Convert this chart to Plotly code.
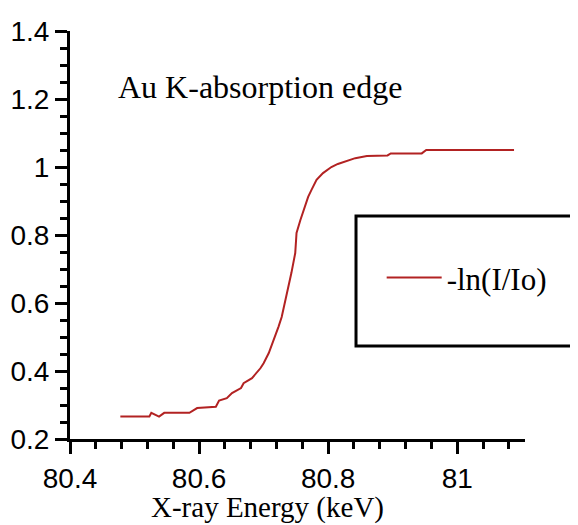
import plotly.graph_objects as go

# Data
energy_kev = [80.478, 80.523, 80.526, 80.538, 80.546, 80.585, 80.597, 80.626, 80.631,
              80.643, 80.651, 80.665, 80.669, 80.682, 80.695, 80.700, 80.708, 80.716,
              80.723, 80.728, 80.734, 80.738, 80.743, 80.749, 80.751, 80.757, 80.762,
              80.769, 80.774, 80.782, 80.792, 80.805, 80.815, 80.826, 80.842, 80.860,
              80.892, 80.897, 80.945, 80.952, 81.088]
neg_ln_i_io = [0.266, 0.266, 0.277, 0.266, 0.277, 0.277, 0.291, 0.295, 0.313,
               0.320, 0.335, 0.350, 0.364, 0.379, 0.408, 0.423, 0.453, 0.491,
               0.530, 0.559, 0.609, 0.647, 0.688, 0.747, 0.806, 0.844, 0.874,
               0.912, 0.932, 0.962, 0.982, 1.000, 1.009, 1.016, 1.026, 1.032,
               1.034, 1.040, 1.040, 1.050, 1.050]
series_name = "-ln(I/Io)"
title_text = "Au K-absorption edge"
x_title = "X-ray Energy (keV)"

serif = "Liberation Serif"
sans = "Liberation Sans"

fig = go.Figure()
fig.add_trace(go.Scatter(
    x=energy_kev, y=neg_ln_i_io, mode="lines", name=series_name,
    line=dict(color="#b22222", width=2),
))

# legend frame: open on the right, as it runs off the picture
bx0, bx1, by0, by1 = 0.6286, 1.3, 0.228, 0.5466
frame_path = f"M {bx1},{by1} L {bx0},{by1} L {bx0},{by0} L {bx1},{by0}"

# the page body has an 8px margin, so the figure is sized to fill the rest
fig.update_layout(
    width=570, height=517,
    margin=dict(l=62, r=53, t=23, b=86, autoexpand=False),
    paper_bgcolor="white", plot_bgcolor="white",
    showlegend=True,
    legend=dict(
        x=0.685, y=0.395, xanchor="left", yanchor="middle",
        bgcolor="rgba(0,0,0,0)", borderwidth=0, itemwidth=55,
        font=dict(family=serif, size=31, color="black"),
    ),
    annotations=[
        dict(x=80.694, y=1.235, xref="x", yref="y", text=title_text, showarrow=False,
             font=dict(family=serif, size=32, color="black")),
        dict(x=0.433, y=-0.169, xref="paper", yref="paper", text=x_title, showarrow=False,
             yanchor="middle", font=dict(family=serif, size=29, color="black")),
    ],
    shapes=[dict(
        type="path", xref="paper", yref="paper", path=frame_path,
        line=dict(color="black", width=3), fillcolor="rgba(0,0,0,0)",
    )],
)

fig.update_xaxes(
    range=[80.4, 81.105], dtick=0.2, tick0=80.4, automargin=False,
    showgrid=False, zeroline=False,
    showline=True, linecolor="black", linewidth=3,
    ticks="outside", ticklen=12, tickwidth=3, tickcolor="black",
    minor=dict(dtick=0.04, ticks="outside", ticklen=7, tickwidth=3, tickcolor="black"),
    tickfont=dict(family=sans, size=28, color="black"),
)
fig.update_yaxes(
    range=[0.2, 1.4], dtick=0.2, tick0=0.2, automargin=False,
    showgrid=False, zeroline=False,
    showline=True, linecolor="black", linewidth=3,
    ticks="outside", ticklen=12, tickwidth=3, tickcolor="black",
    minor=dict(dtick=0.05, ticks="outside", ticklen=7, tickwidth=3, tickcolor="black"),
    tickfont=dict(family=sans, size=28, color="black"),
)

fig.write_html("out.html")
